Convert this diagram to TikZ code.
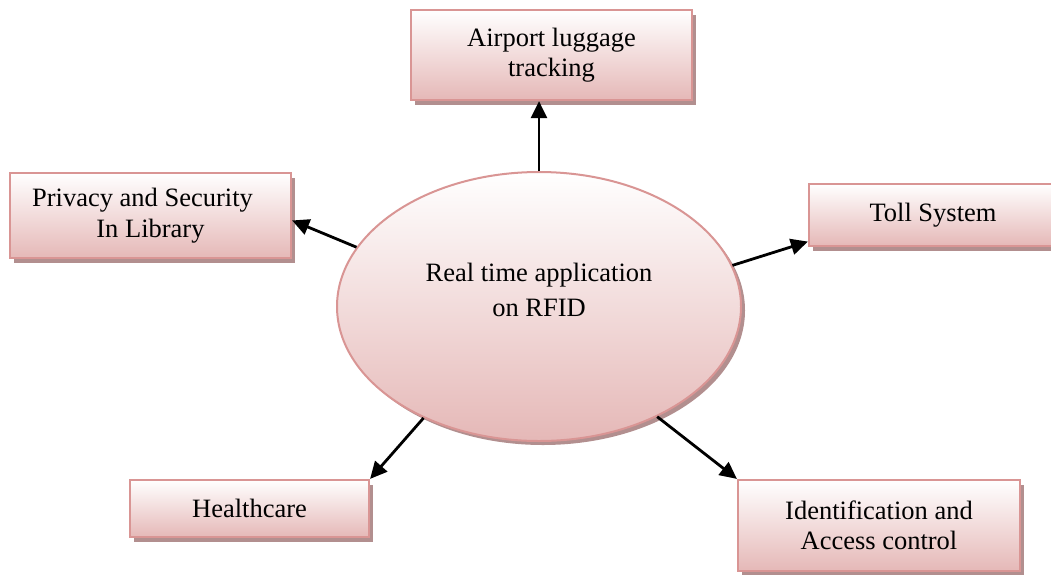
\documentclass[tikz,border=0pt]{standalone}
\usepackage{fontspec}
\setmainfont{Liberation Serif}
\usepackage{xcolor}
\usetikzlibrary{positioning,shapes,shadows,arrows.meta}
\definecolor{myrose}{RGB}{217,149,148}
\definecolor{mypink}{RGB}{229,184,183}
\definecolor{myshadow}{RGB}{178,143,143}

\begin{document}
\begin{tikzpicture}[x=1pt,y=-1pt,
          appbox/.style={rectangle,draw=myrose,line width=2.2pt,top color=white,bottom color=mypink,
            align=center,font=\fontsize{26.5}{30.5}\selectfont,
            drop shadow={shadow xshift=4pt,shadow yshift=-5pt,fill=myshadow,opacity=1}},
          hub/.style={ellipse,draw=myrose,line width=2pt,top color=white,bottom color=mypink,
            minimum width=404pt,minimum height=269pt,inner sep=0pt,
            drop shadow={shadow xshift=4pt,shadow yshift=-4pt,fill=myshadow,opacity=1}},
          link/.style={->,>={Triangle[length=17pt,width=16pt]},line width=2.8pt}
          ]
          \useasboundingbox (0,0) rectangle (1051,574);
          % the centre
          \node[hub] (rfid) at (539,306.5) {};
          \node[align=center,font=\fontsize{26.5}{35}\selectfont] (rfidlabel) at ([yshift=17pt]rfid.center)
            {Real time application\\on RFID};
          % the applications
          \node[appbox,minimum width=281pt,minimum height=90pt] (airport) at (551.5,55) {Airport luggage\\tracking};
          \node[appbox,minimum width=281pt,minimum height=85pt] (privacy) at (150.5,215.5) {Privacy and Security\hspace*{16pt}\\In Library};
          \node[appbox,minimum width=248pt,minimum height=62pt] (toll) at (933,215) {Toll System};
          \node[appbox,minimum width=239pt,minimum height=57pt] (health) at (249.5,508.5) {Healthcare};
          \node[appbox,minimum width=282pt,minimum height=91pt] (ident) at (879,525.5) {Identification and\\Access control};
          % the arrows
          \draw[link] (rfid.north) -- (rfid.north |- airport.south);
          \draw[link] (rfid.162) -- (privacy.-2);
          \draw[link] (rfid.12) -- (toll.192);
          \draw[link] (rfid.224) -- (health.north east);
          \draw[link] (rfid.-43) -- (ident.north west);
        \end{tikzpicture}
\end{document}
